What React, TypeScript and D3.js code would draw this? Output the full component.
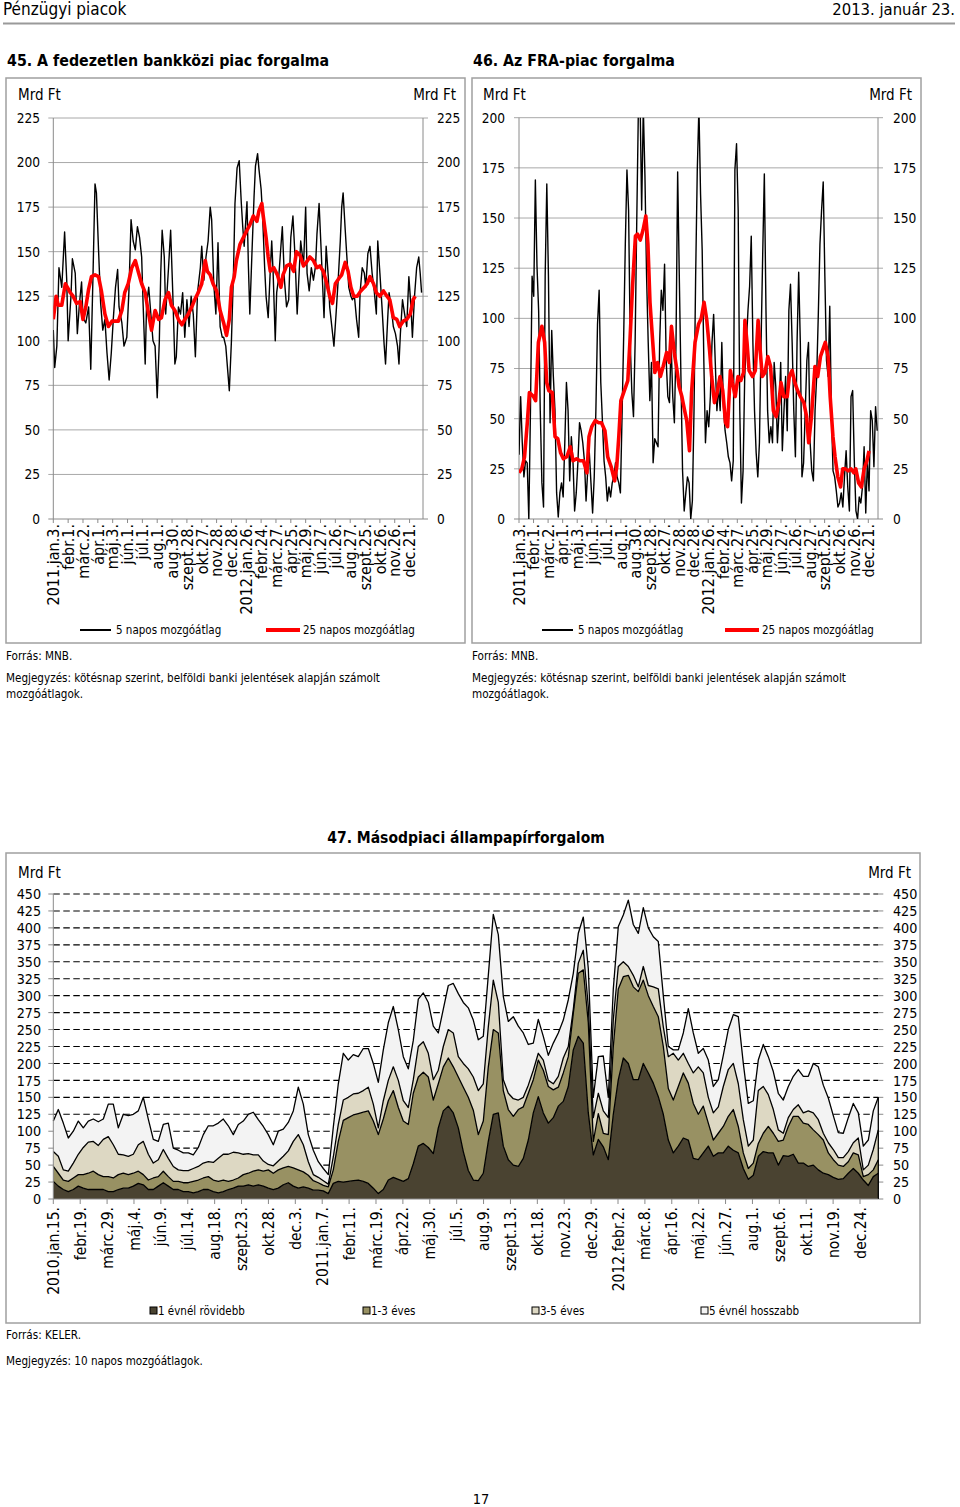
import React from 'react'
import * as d3 from 'd3'

const FONT = '"DejaVu Sans Condensed", "DejaVu Sans", sans-serif'
const GRID = '#a8a8a8'
const AXIS = '#8a8a8a'
const FRAME = '#a0a0a0'

// x-axis labels (every 21st trading day) of charts 45 and 46
const tickLabels45 = ['2011.jan.3.', 'febr.1.', 'márc.2.', 'ápr.1.', 'máj.3.', 'jún.1.', 'júl.1.', 'aug.1.', 'aug.30.', 'szept.28.', 'okt.27.', 'nov.28.', 'dec.28.', '2012.jan.26.', 'febr.24.', 'márc.27.', 'ápr.25.', 'máj.29.', 'jún.27.', 'júl.26.', 'aug.27.', 'szept.25.', 'okt.26.', 'nov.26.', 'dec.21.']
const DAYS_PER_TICK = 21

// 45. fedezetlen bankközi piac: trading-day index and value (Mrd Ft)
const black45Days = [0,2,5,8,12,16,19,21,25,27,31,34,37,40,42,46,50,53,56,59,61,64,67,70,73,76,79,82,85,88,91,93,97,100,104,107,110,113,116,119,122,125,127,130,132,135,138,141,144,147,150,152,154,157,159,163,166,169,172,174,177,180,183,186,189,192,195,198,201,204,208,210,213,216,219,222,224,227,230,233,236,239,241,244,247,249,252,255,257,260,263,266,268,270,274,276,278,281,284,286,289,291,294,296,299,301,304,307,309,311,314,316,319,322,324,327,330,333,336,339,342,345,348,350,354,357,359,362,365,368,371,373,376,380,383,386,389,391,394,397,400,403,406,408,410,413,415,418,421,423,426,429,432,434,437,440,442,445,448,451,454,457,459,462,465,468,470,473,475,478,481,484,487,489,491,494,497,500,503,506,508,511,514,517,519,521]
const black45 = [106,85,97,141,130,161,134,100,125,146,138,104,121,133,113,110,119,84,134,188,183,151,121,106,112,93,78,93,113,130,140,119,110,97,102,128,168,156,151,164,158,147,121,87,121,130,115,100,97,68,100,138,162,147,115,141,162,127,87,91,119,115,127,102,123,108,125,115,91,127,141,153,134,147,156,175,168,132,115,155,108,102,102,97,82,72,100,140,177,197,201,177,164,153,178,142,115,149,181,198,205,196,185,171,141,125,113,140,156,138,100,127,136,153,164,134,119,123,158,170,147,115,140,156,142,175,138,128,141,134,142,160,177,141,113,153,136,119,108,97,115,134,156,175,183,162,149,130,125,123,125,112,102,127,141,138,130,149,153,138,128,115,156,138,119,98,87,112,127,119,108,104,97,87,104,123,115,108,136,119,102,125,141,147,138,127]
const red45Days = [0,4,7,12,17,20,24,28,33,38,42,46,50,54,59,64,68,73,78,83,87,92,97,101,106,111,116,120,125,130,134,139,144,149,153,158,163,167,172,177,182,186,191,196,200,205,210,215,218,222,226,231,236,241,245,249,252,256,259,264,269,274,278,283,288,291,295,297,301,304,307,312,317,322,325,330,335,340,344,349,354,358,363,368,373,377,382,387,391,395,399,404,408,413,417,421,425,430,435,440,444,448,453,457,462,467,472,476,481,486,490,495,500,505,509,512]
const red45 = [112,125,120,120,132,130,127,125,121,122,112,119,129,136,137,136,128,115,108,111,111,111,117,127,132,141,145,139,132,127,117,106,117,112,113,123,127,120,117,112,109,112,115,119,123,127,132,145,139,137,132,128,117,110,103,112,130,136,145,154,158,162,165,170,167,173,177,170,158,147,139,141,137,130,137,142,143,139,150,148,142,144,147,145,141,142,139,132,125,121,132,135,137,144,139,130,125,125,128,130,132,136,132,127,125,128,125,123,113,112,108,111,112,115,123,125]

// 46. FRA-piac: 5-day series read on an even grid, 25-day series with its day index
const BLACK46_STEP = 2.36
const black46 = [32,61,38,21,29,28,0,54,121,111,169,126,104,54,18,6,121,167,121,48,94,71,54,13,1,13,18,11,38,68,54,19,41,29,4,13,28,48,44,38,29,9,24,33,18,3,21,54,97,114,68,49,29,21,9,16,11,18,21,28,21,18,13,51,91,137,174,154,88,63,51,88,149,205,210,154,205,171,121,88,59,78,28,40,38,36,88,114,104,127,79,61,58,88,61,48,88,173,121,71,24,4,13,21,18,0,9,54,121,174,205,162,134,79,38,54,46,61,88,102,78,54,66,54,88,56,44,38,31,28,19,29,174,187,154,54,8,24,71,88,104,116,141,88,54,33,21,38,88,132,172,104,54,38,46,38,78,66,38,54,78,34,54,71,44,104,117,88,54,31,88,123,88,21,28,54,79,88,38,24,19,54,71,102,137,154,168,121,79,71,106,54,24,21,14,6,8,13,6,21,34,16,4,61,64,29,4,0,11,8,16,36,3,29,14,54,49,26,56,44]
const red46Days = [0,4,8,12,15,21,24,28,33,37,40,43,48,52,56,60,64,69,74,78,83,88,93,98,101,105,110,115,119,124,128,133,138,141,144,147,152,157,160,164,168,171,175,179,183,186,189,193,196,200,204,208,213,217,220,224,228,231,235,239,242,246,249,254,259,263,267,271,275,278,282,286,290,294,298,301,305,308,312,316,320,324,326,329,332,337,341,345,348,351,355,359,363,367,371,375,378,382,387,390,394,398,402,406,411,415,418,422,427,431,435,438,442,446,449,453,456,460,464,467,471,475,479,483,486,490,494,498,502,505]
const red46 = [23,25,31,48,63,61,59,88,96,88,68,64,63,41,40,33,30,31,36,29,30,29,29,23,41,46,49,48,48,44,31,26,19,26,41,59,64,69,88,117,141,142,139,144,151,137,108,88,73,78,71,76,83,78,96,83,74,66,61,54,49,34,63,88,97,100,108,99,84,71,58,63,71,64,48,46,74,68,61,71,69,73,99,88,74,71,74,99,84,71,73,81,76,54,51,58,68,61,61,71,74,68,64,61,58,51,38,51,76,71,81,84,88,81,61,41,31,21,16,25,25,24,25,23,25,18,16,25,29,34]

// 47. másodpiaci állampapírforgalom (10-day averages, every ~4.65 trading days)
const tickLabels47 = ['2010.jan.15.', 'febr.19.', 'márc.29.', 'máj.4.', 'jún.9.', 'júl.14.', 'aug.18.', 'szept.23.', 'okt.28.', 'dec.3.', '2011.jan.7.', 'febr.11.', 'márc.19.', 'ápr.22.', 'máj.30.', 'júl.5.', 'aug.9.', 'szept.13.', 'okt.18.', 'nov.23.', 'dec.29.', '2012.febr.2.', 'márc.8.', 'ápr.16.', 'máj.22.', 'jún.27.', 'aug.1.', 'szept.6.', 'okt.11.', 'nov.19.', 'dec.24.']
const DAYS_PER_TICK_47 = 25
const DAYS_47 = 767
const under1y = [26,19,14,11,14,19,16,14,14,14,14,11,11,14,16,16,19,23,21,14,14,19,24,19,14,14,11,11,9,11,14,14,11,9,11,14,16,19,19,21,19,21,19,16,14,16,21,24,19,16,18,16,13,13,12,8,23,26,25,26,27,28,26,23,16,8,14,28,32,29,26,30,52,78,82,76,67,105,130,137,127,105,70,42,28,27,38,85,125,127,78,58,50,48,60,87,127,151,127,112,120,137,144,166,220,240,230,127,65,88,77,58,125,176,208,200,176,176,200,186,171,151,125,87,68,78,90,87,60,58,68,78,63,68,68,78,72,68,45,29,35,63,70,68,68,50,64,63,66,53,53,48,50,43,38,36,32,29,30,38,45,38,28,20,33,38]
const y1to3 = [22,19,14,15,17,17,20,24,27,22,19,22,20,22,22,20,19,18,15,14,17,14,17,14,12,12,13,13,17,17,17,19,17,17,17,12,12,12,17,17,22,22,22,27,24,27,25,24,27,27,22,19,14,11,8,10,20,59,91,94,97,98,102,107,99,87,104,117,128,106,89,80,104,102,105,104,79,65,65,71,68,75,95,108,103,68,77,110,125,118,82,74,72,84,76,69,49,54,63,54,41,28,42,44,54,93,108,133,20,38,20,37,100,134,120,130,137,130,123,114,113,118,100,76,78,88,96,84,81,67,69,34,24,29,39,44,60,39,23,16,18,19,27,39,29,35,23,44,56,69,59,62,52,52,49,32,26,21,18,17,23,27,5,16,10,20]
const y3to5 = [22,25,15,15,22,30,40,46,44,43,55,59,49,30,27,27,28,39,49,38,22,25,32,27,22,17,18,18,19,20,22,22,26,34,38,40,41,37,30,29,24,22,15,8,11,13,17,23,39,52,40,20,9,8,7,4,19,25,30,30,31,30,32,35,25,10,27,30,35,40,30,25,20,45,45,35,30,20,30,42,50,30,35,42,49,65,55,59,73,45,16,24,26,14,14,12,14,10,15,9,9,16,22,15,6,15,29,24,35,30,33,25,40,33,22,13,17,7,20,15,29,41,29,47,69,39,29,29,45,70,49,38,40,39,59,69,68,63,49,33,34,78,69,47,35,17,10,13,10,17,15,20,25,22,10,15,15,11,13,15,15,25,10,14,30,44]
const over5y = [45,69,69,49,47,49,29,31,33,35,30,48,60,39,60,60,59,50,65,52,35,27,37,52,27,29,26,26,20,28,42,53,54,52,52,42,26,42,49,58,63,52,51,44,31,44,40,42,45,70,60,40,36,23,18,14,44,60,69,55,58,54,62,57,60,67,75,85,89,75,65,57,58,70,72,75,79,55,55,65,73,93,90,90,84,75,70,76,97,100,123,106,121,109,95,60,40,50,35,37,60,64,56,69,53,44,49,56,30,54,81,30,45,59,69,98,75,79,87,85,74,70,46,15,5,15,30,81,59,20,36,55,39,40,46,59,72,99,83,63,58,45,62,56,56,54,49,46,49,52,54,51,73,78,71,66,50,37,36,50,58,37,35,37,57,48]
const seriesNames47 = ['1 évnél rövidebb', '1-3 éves', '3-5 éves', '5 évnél hosszabb']
const seriesColors47 = ['#4a4331', '#989163', '#ddd8c3', '#f3f3f3']

const NOTE_45 = 'Megjegyzés: kötésnap szerint, belföldi banki jelentések alapján számolt'
const NOTE_SIZE = 11.6

type MAProps = {
  id: string, title: string, frameX: number, frameW: number,
  x0: number, x1: number, days: number, yTop: number, yMax: number,
  leftLabelX: number, rightLabelX: number, mrdLeft: number, mrdRight: number,
  blackDays: number[], black: number[], redDays: number[], red: number[],
  legBlack: number, legBlackText: number, legRed: number, legRedText: number
}

function MovingAvgChart(p: MAProps) {
  const yBottom = 519
  const x = d3.scaleLinear().domain([0, p.days]).range([p.x0, p.x1])
  const y = d3.scaleLinear().domain([0, p.yMax]).range([yBottom, p.yTop])
  const yTicks = d3.range(0, p.yMax + 1, 25)
  const line = d3.line<[number, number]>().x(d => x(d[0])).y(d => y(d[1]))
  const blackPts = p.black.map((v, i) => [p.blackDays[i], v] as [number, number])
  const redPts = p.red.map((v, i) => [p.redDays[i], v] as [number, number])
  return (
    <g>
      <text x={p.frameX + 1} y={66} fontSize={15.8} fontWeight="bold">{p.title}</text>
      <rect x={p.frameX} y={78} width={p.frameW} height={565} fill="#fff" stroke={FRAME} strokeWidth={1.5} />
      <text x={p.mrdLeft} y={100} fontSize={15}>Mrd Ft</text>
      <text x={p.mrdRight} y={100} fontSize={15} textAnchor="end">Mrd Ft</text>
      {yTicks.map(t => (
        <g key={t}>
          <line x1={p.x0 - 5} x2={p.x1 + 5} y1={y(t)} y2={y(t)} stroke={t === 0 ? AXIS : GRID} strokeWidth={1} />
          <text x={p.leftLabelX} y={y(t)} dy="0.36em" fontSize={13.6} textAnchor="end">{t}</text>
          <text x={p.rightLabelX} y={y(t)} dy="0.36em" fontSize={13.6}>{t}</text>
        </g>
      ))}
      <line x1={p.x0} x2={p.x0} y1={p.yTop} y2={yBottom} stroke={AXIS} />
      <line x1={p.x1} x2={p.x1} y1={p.yTop} y2={yBottom} stroke={AXIS} />
      {tickLabels45.map((l, i) => {
        const tx = x(i * DAYS_PER_TICK)
        return (
          <g key={l}>
            <line x1={tx} x2={tx} y1={yBottom} y2={yBottom + 4} stroke={AXIS} />
            <text transform={`translate(${tx},${yBottom + 5}) rotate(-90)`} dy="0.36em" fontSize={16} textAnchor="end">{l}</text>
          </g>
        )
      })}
      <clipPath id={`clip-${p.id}`}>
        <rect x={p.x0} y={p.yTop} width={p.x1 - p.x0} height={yBottom - p.yTop} />
      </clipPath>
      <g clipPath={`url(#clip-${p.id})`}>
        <path d={line(blackPts) ?? ''} fill="none" stroke="#000" strokeWidth={1.4} strokeLinejoin="round" />
        <path d={line(redPts) ?? ''} fill="none" stroke="#ff0000" strokeWidth={3.6} strokeLinejoin="round" />
      </g>
      <line x1={p.legBlack} x2={p.legBlack + 31} y1={630} y2={630} stroke="#000" strokeWidth={2} />
      <text x={p.legBlackText} y={630} dy="0.36em" fontSize={11.5}>5 napos mozgóátlag</text>
      <line x1={p.legRed} x2={p.legRed + 34} y1={630} y2={630} stroke="#ff0000" strokeWidth={4} />
      <text x={p.legRedText} y={630} dy="0.36em" fontSize={11.5}>25 napos mozgóátlag</text>
      <text x={p.frameX} y={660} fontSize={NOTE_SIZE}>Forrás: MNB.</text>
      <text x={p.frameX} y={682} fontSize={NOTE_SIZE}>{NOTE_45}</text>
      <text x={p.frameX} y={698} fontSize={NOTE_SIZE}>mozgóátlagok.</text>
    </g>
  )
}

function TurnoverChart() {
  const x0 = 53.3, x1 = 878.3, yTop = 894, yBottom = 1199
  const x = d3.scaleLinear().domain([0, DAYS_47]).range([x0, x1])
  const y = d3.scaleLinear().domain([0, 450]).range([yBottom, yTop])
  const step = DAYS_47 / (under1y.length - 1)
  const rows = under1y.map((v, i) => ({ day: i * step, s0: v, s1: y1to3[i], s2: y3to5[i], s3: over5y[i] }))
  const stack = d3.stack<any>().keys(['s0', 's1', 's2', 's3'])(rows)
  const area = d3.area<any>().x(d => x(d.data.day)).y0(d => y(d[0])).y1(d => y(d[1]))
  const top = d3.line<any>().x(d => x(d.data.day)).y(d => y(d[1]))
  const yTicks = d3.range(0, 451, 25)
  const legendX = [150, 363, 532, 701]
  return (
    <g>
      <text x={466} y={843} fontSize={15.5} fontWeight="bold" textAnchor="middle">47. Másodpiaci állampapírforgalom</text>
      <rect x={6} y={853} width={914} height={470} fill="#fff" stroke={FRAME} strokeWidth={1.5} />
      <text x={18} y={878} fontSize={15}>Mrd Ft</text>
      <text x={911} y={878} fontSize={15} textAnchor="end">Mrd Ft</text>
      {yTicks.map(t => (
        <g key={t}>
          {t > 0 && <line x1={x0} x2={x1} y1={y(t)} y2={y(t)} stroke="#000" strokeWidth={1.1} strokeDasharray="6.5,3.5" />}
          <line x1={x0 - 5} x2={x0} y1={y(t)} y2={y(t)} stroke={AXIS} />
          <line x1={x1} x2={x1 + 5} y1={y(t)} y2={y(t)} stroke={AXIS} />
          <text x={41} y={y(t)} dy="0.36em" fontSize={14.2} textAnchor="end">{t}</text>
          <text x={893} y={y(t)} dy="0.36em" fontSize={14.2}>{t}</text>
        </g>
      ))}
      {stack.map((s, i) => (
        <path key={`a${i}`} d={area(s) ?? ''} fill={seriesColors47[i]} stroke="none" />
      ))}
      {stack.map((s, i) => (
        <path key={`l${i}`} d={top(s) ?? ''} fill="none" stroke="#000" strokeWidth={1.3} strokeLinejoin="round" />
      ))}
      <line x1={x1} x2={x1} y1={y(stack[3][stack[3].length - 1][1])} y2={yBottom} stroke="#000" strokeWidth={1.3} />
      <line x1={x0} x2={x0} y1={yTop} y2={yBottom} stroke={AXIS} />
      <line x1={x0} x2={x1} y1={yBottom} y2={yBottom} stroke={AXIS} />
      {tickLabels47.map((l, i) => {
        const tx = x(i * DAYS_PER_TICK_47)
        return (
          <g key={l + i}>
            <line x1={tx} x2={tx} y1={yBottom} y2={yBottom + 5} stroke={AXIS} />
            <text transform={`translate(${tx},${yBottom + 8}) rotate(-90)`} dy="0.36em" fontSize={15.5} textAnchor="end">{l}</text>
          </g>
        )
      })}
      {seriesNames47.map((n, i) => (
        <g key={n}>
          <rect x={legendX[i]} y={1307} width={7} height={7} fill={seriesColors47[i]} stroke="#000" strokeWidth={1} />
          <text x={legendX[i] + 8} y={1310.5} dy="0.36em" fontSize={11.5}>{n}</text>
        </g>
      ))}
      <text x={6} y={1339} fontSize={NOTE_SIZE}>Forrás: KELER.</text>
      <text x={6} y={1365} fontSize={NOTE_SIZE}>Megjegyzés: 10 napos mozgóátlagok.</text>
    </g>
  )
}

export default function App() {
  const black46Days = black46.map((_, i) => i * BLACK46_STEP)
  return (
    <svg width={960} height={1507} style={{ position: 'absolute', left: 0, top: 0, background: '#fff' }} fontFamily={FONT} fill="#000">
      <rect x={0} y={0} width={960} height={1507} fill="#fff" />
      <text x={3} y={15} fontSize={17}>Pénzügyi piacok</text>
      <text x={955} y={15} fontSize={16.5} textAnchor="end">2013. január 23.</text>
      <line x1={3} x2={955} y1={23.5} y2={23.5} stroke="#9a9a9a" strokeWidth={2} />
      <MovingAvgChart id="c45" title="45. A fedezetlen bankközi piac forgalma" frameX={6} frameW={459}
        x0={53.3} x1={423} days={523} yTop={118} yMax={225} leftLabelX={40} rightLabelX={437}
        mrdLeft={18} mrdRight={456} blackDays={black45Days} black={black45} redDays={red45Days} red={red45}
        legBlack={80} legBlackText={116} legRed={266} legRedText={303} />
      <MovingAvgChart id="c46" title="46. Az FRA-piac forgalma" frameX={472} frameW={449}
        x0={519} x1={878} days={518} yTop={117.7} yMax={200} leftLabelX={505} rightLabelX={893}
        mrdLeft={483} mrdRight={912} blackDays={black46Days} black={black46} redDays={red46Days} red={red46}
        legBlack={542} legBlackText={578} legRed={725} legRedText={762} />
      <TurnoverChart />
      <text x={481} y={1500} fontSize={14.5} textAnchor="middle" dominantBaseline="middle">17</text>
    </svg>
  )
}
